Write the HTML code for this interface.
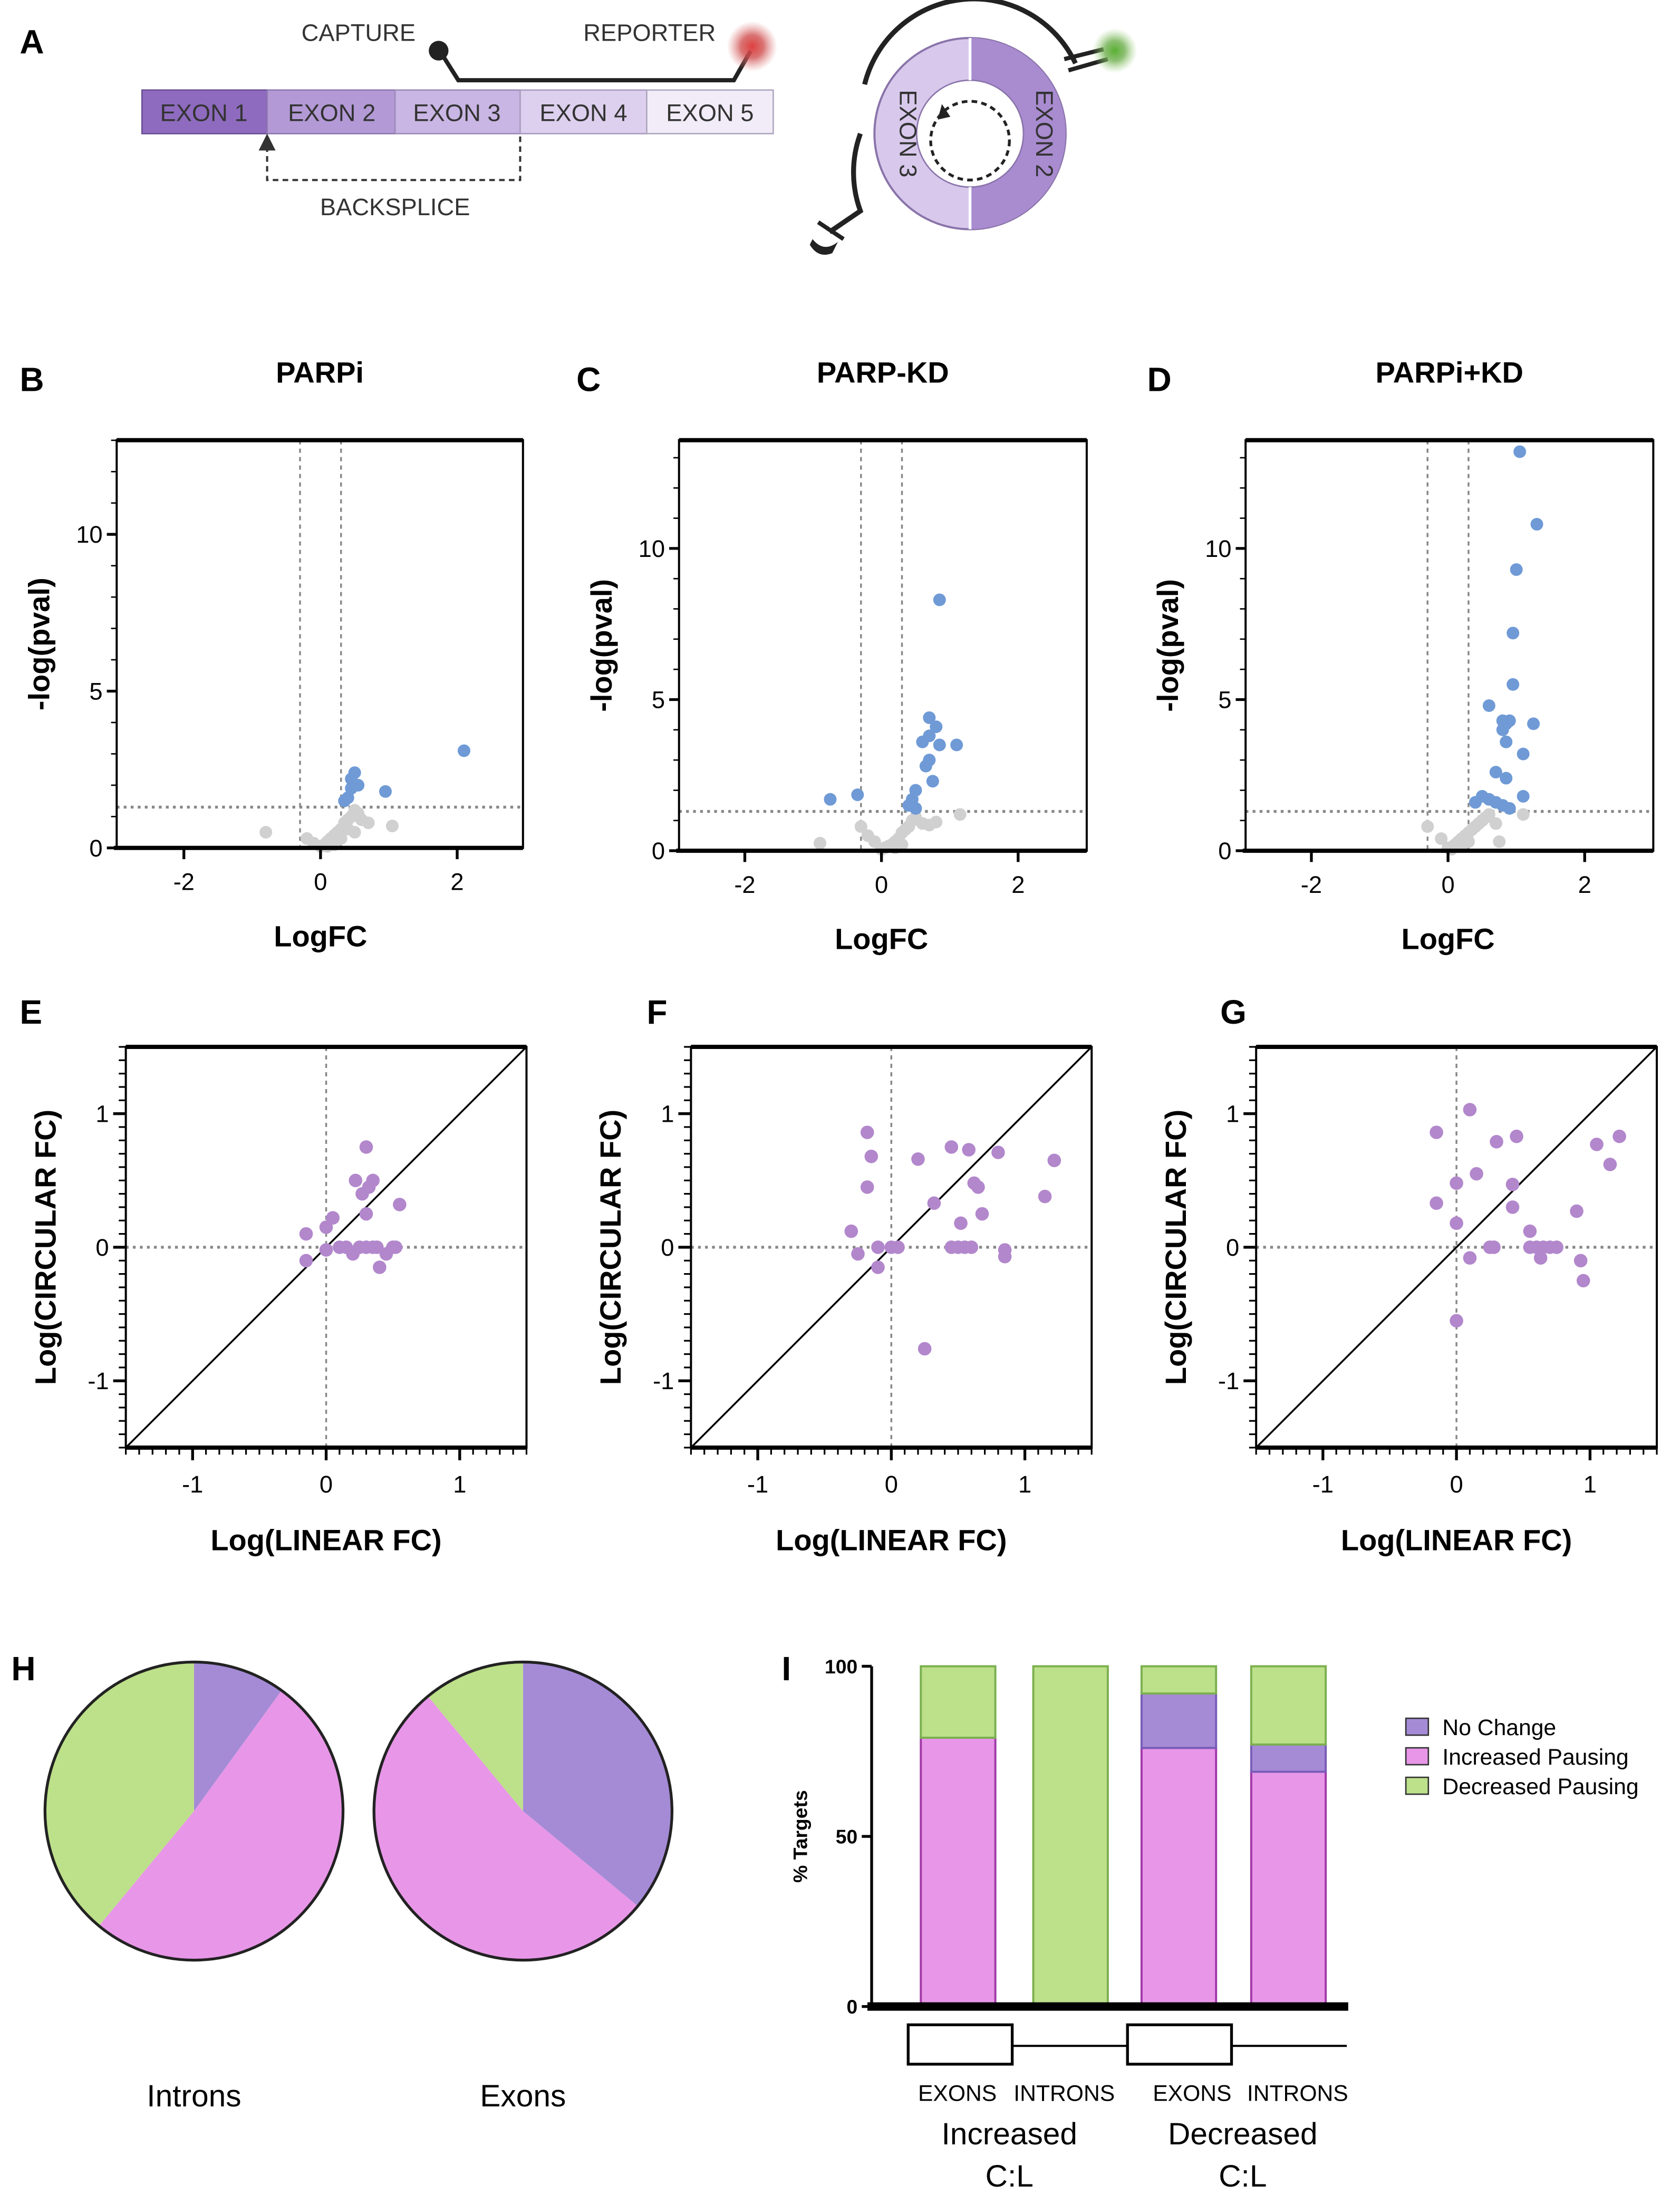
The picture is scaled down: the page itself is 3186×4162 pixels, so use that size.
<!DOCTYPE html>
<html><head><meta charset="utf-8"><style>
html,body{margin:0;padding:0;background:#fff}
svg{display:block;font-family:"Liberation Sans",sans-serif}
</style></head><body>
<svg id="fig" width="3186" height="4162" viewBox="0 0 1195 1561" xmlns="http://www.w3.org/2000/svg">
<defs>
<radialGradient id="glowR"><stop offset="0" stop-color="#e04040"/><stop offset="0.45" stop-color="#d05050" stop-opacity="0.8"/><stop offset="1" stop-color="#e08080" stop-opacity="0"/></radialGradient>
<radialGradient id="glowG"><stop offset="0" stop-color="#58b030"/><stop offset="0.45" stop-color="#70b050" stop-opacity="0.8"/><stop offset="1" stop-color="#a0d080" stop-opacity="0"/></radialGradient>
<marker id="arr" markerWidth="8" markerHeight="8" refX="4" refY="4" orient="auto"><path d="M0,0 L8,4 L0,8z" fill="#333"/></marker>
</defs>
<!-- Panel A -->
<g>
<text x="14" y="38" font-size="24" font-weight="bold">A</text>
<rect x="101" y="64" width="89" height="31" fill="#8e6bbf" stroke="#6a4f94"/>
<rect x="190" y="64" width="91" height="31" fill="#b39ad6" stroke="#8e78b0"/>
<rect x="281" y="64" width="89" height="31" fill="#c9b6e4" stroke="#9d8cb8"/>
<rect x="370" y="64" width="90" height="31" fill="#ddd0ee" stroke="#a99cc0"/>
<rect x="460" y="64" width="90" height="31" fill="#f1ecf8" stroke="#b0a8c0"/>
<g font-size="17" fill="#333" text-anchor="middle">
<text x="145" y="86">EXON 1</text><text x="236" y="86">EXON 2</text><text x="325" y="86">EXON 3</text><text x="415" y="86">EXON 4</text><text x="505" y="86">EXON 5</text>
<text x="255" y="29">CAPTURE</text><text x="462" y="29">REPORTER</text><text x="281" y="153">BACKSPLICE</text>
</g>
<path d="M370,97 V128 H190 V101" fill="none" stroke="#333" stroke-width="1.5" stroke-dasharray="4,3" marker-end="url(#arr)"/>
<path d="M314,38 L326,57 H522 L534,36" fill="none" stroke="#222" stroke-width="3"/>
<circle cx="312" cy="36" r="7" fill="#222"/>
<circle cx="535" cy="33" r="18" fill="url(#glowR)"/>
<circle cx="690" cy="95" r="68" fill="#d8c9ec" stroke="#8a74aa" stroke-width="1.5"/>
<path d="M690,27 A68,68 0 0 1 690,163 Z" fill="#a98bd0"/>
<circle cx="690" cy="95" r="38" fill="#fff" stroke="#8a74aa"/>
<line x1="690" y1="27" x2="690" y2="57" stroke="#fff" stroke-width="2"/>
<line x1="690" y1="133" x2="690" y2="163" stroke="#fff" stroke-width="2"/>
<circle cx="690" cy="100" r="28" fill="none" stroke="#222" stroke-width="2" stroke-dasharray="4,3"/>
<path d="M667,85 L670,74 L676,83z" fill="#222"/>
<text transform="translate(640,95) rotate(90)" font-size="17" fill="#333" text-anchor="middle">EXON 3</text>
<text transform="translate(737,95) rotate(90)" font-size="17" fill="#333" text-anchor="middle">EXON 2</text>
<path d="M615,60 A80,80 0 0 1 765,45" fill="none" stroke="#222" stroke-width="3.5"/>
<path d="M757,42 L785,35 M760,50 L788,42" stroke="#222" stroke-width="3"/>
<circle cx="793" cy="36" r="16" fill="url(#glowG)"/>
<path d="M612,95 A80,80 0 0 0 612,150 L590,165" fill="none" stroke="#222" stroke-width="3.5"/>
<path d="M582,158 L600,170" stroke="#222" stroke-width="3"/>
<path d="M578,170 q8,10 18,2 l-4,8 q-10,4 -16,-6z" fill="#222"/>
</g>
<g id="charts"></g>
</svg>
<script>
// ---------- Data ----------
const volcanoBBlueX=[0.45,0.5,0.55,0.45,0.4,0.95,2.1,0.35];
const volcanoBBlueY=[2.2,2.4,2.0,1.9,1.6,1.8,3.1,1.5];
const volcanoBGreyX=[-0.8,-0.2,-0.1,0,0.05,0.1,0.15,0.2,0.25,0.3,0.35,0.4,0.45,0.5,0.55,0.6,0.7,1.05,0.3,0.2,0.1,0.4,0.5];
const volcanoBGreyY=[0.5,0.3,0.15,0.05,0.1,0.2,0.3,0.4,0.5,0.6,0.8,0.9,1.0,1.2,1.1,0.9,0.8,0.7,0.3,0.1,0.05,0.6,0.5];
const volcanoCBlueX=[-0.75,-0.35,0.85,0.7,0.8,0.6,0.7,0.85,1.1,0.65,0.7,0.75,0.5,0.45,0.4,0.5];
const volcanoCBlueY=[1.7,1.85,8.3,4.4,4.1,3.6,3.8,3.5,3.5,2.8,3.0,2.3,2.0,1.7,1.5,1.4];
const volcanoCGreyX=[-0.9,-0.3,-0.2,-0.1,0,0.05,0.1,0.15,0.2,0.25,0.3,0.35,0.4,0.45,0.5,0.6,0.7,0.8,1.15,0.3,0.2];
const volcanoCGreyY=[0.25,0.8,0.5,0.3,0.05,0.1,0.15,0.2,0.3,0.4,0.6,0.7,0.8,1.0,1.1,0.9,0.85,0.95,1.2,0.2,0.1];
const volcanoDBlueX=[1.05,1.3,1.0,0.95,0.95,0.6,0.8,0.85,0.9,0.8,1.25,0.85,1.1,0.7,0.85,1.1,0.5,0.6,0.4,0.7,0.9,0.8];
const volcanoDBlueY=[13.2,10.8,9.3,7.2,5.5,4.8,4.3,4.2,4.3,4.0,4.2,3.6,3.2,2.6,2.4,1.8,1.8,1.7,1.6,1.6,1.4,1.5];
const volcanoDGreyX=[-0.3,-0.1,0,0.05,0.1,0.15,0.2,0.25,0.3,0.35,0.4,0.45,0.5,0.55,0.6,0.7,0.75,1.1,0.3,0.2];
const volcanoDGreyY=[0.8,0.4,0.1,0.05,0.2,0.3,0.4,0.5,0.6,0.7,0.8,0.9,1.0,1.1,1.2,0.9,0.3,1.2,0.3,0.15];
const scatterEX=[0.3,0.22,0.32,0.35,0.27,0.55,0.3,0.05,0.0,-0.15,-0.15,0.0,0.1,0.15,0.2,0.25,0.3,0.38,0.45,0.5,0.4,0.35,0.52];
const scatterEY=[0.75,0.5,0.45,0.5,0.4,0.32,0.25,0.22,0.15,0.1,-0.1,-0.02,0,0,-0.05,0,0,0,-0.05,0,-0.15,0,0];
const scatterFX=[-0.18,-0.15,-0.18,0.2,0.45,0.58,0.8,1.22,0.62,0.65,1.15,0.32,0.68,0.52,-0.3,-0.25,-0.1,0,0.05,-0.1,0.45,0.5,0.55,0.6,0.85,0.85,0.25];
const scatterFY=[0.86,0.68,0.45,0.66,0.75,0.73,0.71,0.65,0.48,0.45,0.38,0.33,0.25,0.18,0.12,-0.05,0,0,0,-0.15,0,0,0,0,-0.02,-0.07,-0.76];
const scatterGX=[-0.15,0.1,0.3,0.45,1.05,1.22,1.15,0.15,0,0.42,-0.15,0.42,0.9,0,0.55,0.1,0.25,0.28,0.55,0.6,0.65,0.7,0.75,0.63,0.93,0.95,0];
const scatterGY=[0.86,1.03,0.79,0.83,0.77,0.83,0.62,0.55,0.48,0.47,0.33,0.3,0.27,0.18,0.12,-0.08,0,0,0,0,0,0,0,-0.08,-0.1,-0.25,-0.55];
const pieLabels=["No Change","Increased Pausing","Decreased Pausing"];
const pieIntrons=[10,51,39];
const pieExons=[36,53,11];
const barCategories=["EXONS-Inc","INTRONS-Inc","EXONS-Dec","INTRONS-Dec"];
const barIncreased=[79,0,76,69];
const barNoChange=[0,0,16,8];
const barDecreased=[21,100,8,23];
const barTicks=[0,50,100];

const NS="http://www.w3.org/2000/svg";
const root=document.getElementById('charts');
function mk(tag,attrs,parent){const e=document.createElementNS(NS,tag);for(const k in attrs)e.setAttribute(k,attrs[k]);(parent||root).appendChild(e);return e;}
function txt(x,y,s,size,opts,parent){const t=mk('text',Object.assign({x:x,y:y,'font-size':size},opts||{}),parent);t.textContent=s;return t;}

// Panel letters & titles
[["B",14,278],["C",410,278],["D",816,278],["E",14,728],["F",460,728],["G",868,728],["H",8,1195],["I",556,1195]].forEach(l=>{
 const t=txt(l[1],l[2],l[0],24,{'font-weight':'bold'});
 
 
});

function volcano(id,box,x0px,scaleY,title,bx,by,gx,gy){
 const g=mk('g',{});
 
 
 const xs=v=>x0px+v*48.6, ys=v=>box.b-v*scaleY;
 const tt=txt((box.l+box.r)/2,272,title,21,{'font-weight':'bold','text-anchor':'middle'},g);
 
 
 // threshold lines
 mk('line',{x1:xs(-0.3),x2:xs(-0.3),y1:box.t,y2:box.b,stroke:'#888','stroke-width':1.3,'stroke-dasharray':'3,3'},g);
 mk('line',{x1:xs(0.3),x2:xs(0.3),y1:box.t,y2:box.b,stroke:'#888','stroke-width':1.3,'stroke-dasharray':'3,3'},g);
 mk('line',{x1:box.l,x2:box.r,y1:ys(1.3),y2:ys(1.3),stroke:'#888','stroke-width':2,'stroke-dasharray':'2,3'},g);
 gx.forEach((v,i)=>{const c=mk('circle',{cx:xs(v),cy:ys(gy[i]),r:4.5,fill:'#d0d0d0'},g);
  });
 bx.forEach((v,i)=>{const c=mk('circle',{cx:xs(v),cy:ys(by[i]),r:4.5,fill:'#6f9ad6'},g);
  });
 mk('rect',{x:box.l,y:box.t,width:box.r-box.l,height:box.b-box.t,fill:'none',stroke:'#000','stroke-width':1.5},g);
 mk('line',{x1:box.l,x2:box.r,y1:box.t,y2:box.t,stroke:'#000','stroke-width':3},g);
 mk('line',{x1:box.l-2,x2:box.r,y1:box.b,y2:box.b,stroke:'#000','stroke-width':3},g);
 [-2,0,2].forEach(v=>{mk('line',{x1:xs(v),x2:xs(v),y1:box.b,y2:box.b+8,stroke:'#000','stroke-width':2},g);
  txt(xs(v),box.b+30,String(v),17,{'text-anchor':'middle'},g);});
 [0,5,10].forEach(v=>{mk('line',{x1:box.l-7,x2:box.l,y1:ys(v),y2:ys(v),stroke:'#000','stroke-width':2},g);
  txt(box.l-10,ys(v)+6,String(v),17,{'text-anchor':'end'},g);});
 for(let v=1;v<=13;v++){ if(ys(v)>box.t) mk('line',{x1:box.l-4,x2:box.l,y1:ys(v),y2:ys(v),stroke:'#000','stroke-width':1},g);}
 const xl=txt(x0px,box.b+70,'LogFC',21,{'font-weight':'bold','text-anchor':'middle'},g);
 
 const yl=txt(0,0,'-log(pval)',21,{'font-weight':'bold','text-anchor':'middle',transform:`translate(${box.l-48},${(box.t+box.b)/2}) rotate(-90)`},g);
 
}
volcano('parpi',{l:83,r:372,t:313,b:603},228,22.3,'PARPi',volcanoBBlueX,volcanoBBlueY,volcanoBGreyX,volcanoBGreyY);
volcano('parp-kd',{l:483,r:773,t:313,b:605},627,21.5,'PARP-KD',volcanoCBlueX,volcanoCBlueY,volcanoCGreyX,volcanoCGreyY);
volcano('parpi-kd',{l:886,r:1176,t:313,b:605},1030,21.5,'PARPi+KD',volcanoDBlueX,volcanoDBlueY,volcanoDGreyX,volcanoDGreyY);

function scatter(id,x0,px,py){
 const g=mk('g',{});
 
 
 const y0=887,k=95;
 const xs=v=>x0+v*k, ys=v=>y0-v*k;
 const l=xs(-1.5),r=xs(1.5),t=ys(1.5),b=ys(-1.5);
 mk('line',{x1:xs(0),x2:xs(0),y1:t,y2:b,stroke:'#888','stroke-width':1.3,'stroke-dasharray':'3,3'},g);
 mk('line',{x1:l,x2:r,y1:ys(0),y2:ys(0),stroke:'#888','stroke-width':2,'stroke-dasharray':'2,3'},g);
 mk('line',{x1:xs(-1.5),y1:ys(-1.5),x2:xs(1.5),y2:ys(1.5),stroke:'#000','stroke-width':1.3},g);
 px.forEach((v,i)=>{const c=mk('circle',{cx:xs(v),cy:ys(py[i]),r:4.8,fill:'#b287cc'},g);
  });
 mk('rect',{x:l,y:t,width:r-l,height:b-t,fill:'none',stroke:'#000','stroke-width':1.5},g);
 mk('line',{x1:l,x2:r,y1:t,y2:t,stroke:'#000','stroke-width':3},g);
 mk('line',{x1:l,x2:r,y1:b,y2:b,stroke:'#000','stroke-width':3},g);
 for(let i=-15;i<=15;i++){const v=i/10,maj=(i%10===0);
  mk('line',{x1:xs(v),x2:xs(v),y1:b,y2:b+(maj?9:5),stroke:'#000','stroke-width':maj?2:1.2},g);
  mk('line',{x1:l-(maj?9:5),x2:l,y1:ys(v),y2:ys(v),stroke:'#000','stroke-width':maj?2:1.2},g);}
 [-1,0,1].forEach(v=>{txt(xs(v),b+32,String(v),17,{'text-anchor':'middle'},g);
  txt(l-12,ys(v)+6,String(v),17,{'text-anchor':'end'},g);});
 const xl=txt(xs(0),b+73,'Log(LINEAR FC)',21,{'font-weight':'bold','text-anchor':'middle'},g);
 
 const yl=txt(0,0,'Log(CIRCULAR FC)',21,{'font-weight':'bold','text-anchor':'middle',transform:`translate(${l-50},${y0}) rotate(-90)`},g);
 
}
scatter('parpi',232,scatterEX,scatterEY);
scatter('parp-kd',634,scatterFX,scatterFY);
scatter('parpi-kd',1036,scatterGX,scatterGY);

const colors=['#a58bd6','#e896e8','#bde08a'];
function pie(id,cx,cy,r,vals,label){
 const g=mk('g',{});
 
 
 const tot=vals.reduce((a,b)=>a+b,0);let a=0;
 vals.forEach((v,i)=>{const a1=a+v/tot*2*Math.PI;
  const p=`M${cx},${cy} L${cx+r*Math.sin(a)},${cy-r*Math.cos(a)} A${r},${r} 0 ${a1-a>Math.PI?1:0} 1 ${cx+r*Math.sin(a1)},${cy-r*Math.cos(a1)} Z`;
  const s=mk('path',{d:p,fill:colors[i]},g);
  
  
  a=a1;});
 mk('circle',{cx:cx,cy:cy,r:r,fill:'none',stroke:'#222','stroke-width':2},g);
 txt(cx,1498,label,22,{'text-anchor':'middle'},g);
}
pie('introns',138,1288,106,pieIntrons,'Introns');
pie('exons',372,1288,106,pieExons,'Exons');

// Bar chart
(function(){
 const g=mk('g',{});
 
 
 const y0=1427,k=2.42;const ys=v=>y0-v*k;
 const lefts=[655,735,812,890],w=53;
 const strokes=['#7a5cb8','#a23aa8','#7cb050'];
 barCategories.forEach((c,i)=>{
  const segs=[barIncreased[i],barNoChange[i],barDecreased[i]];
  const cols=[colors[1],colors[0],colors[2]], st=[strokes[1],strokes[0],strokes[2]];
  let base=0;
  segs.forEach((v,j)=>{ if(v<=0)return;
   const r=mk('rect',{x:lefts[i],y:ys(base+v),width:w,height:v*k,fill:cols[j],stroke:st[j],'stroke-width':1.5},g);
   
   
   base+=v;});
 });
 mk('line',{x1:620,x2:620,y1:ys(100),y2:y0,stroke:'#000','stroke-width':2},g);
 barTicks.forEach(v=>{mk('line',{x1:613,x2:620,y1:ys(v),y2:ys(v),stroke:'#000','stroke-width':2},g);
  txt(610,ys(v)+5,String(v),14,{'text-anchor':'end','font-weight':'bold'},g);});
 mk('line',{x1:617,x2:959,y1:y0,y2:y0,stroke:'#000','stroke-width':6},g);
 const yl=txt(0,0,'% Targets',14,{'font-weight':'bold','text-anchor':'middle',transform:`translate(574,${ys(50)}) rotate(-90)`},g);
 
 // gene diagram
 mk('rect',{x:646,y:1440,width:74,height:28,fill:'#fff',stroke:'#000','stroke-width':2},g);
 mk('line',{x1:720,x2:802,y1:1455,y2:1455,stroke:'#000','stroke-width':1.5},g);
 mk('rect',{x:802,y:1440,width:74,height:28,fill:'#fff',stroke:'#000','stroke-width':2},g);
 mk('line',{x1:876,x2:958,y1:1455,y2:1455,stroke:'#000','stroke-width':1.5},g);
 txt(681,1494,'EXONS',16,{'text-anchor':'middle'},g);txt(757,1494,'INTRONS',16,{'text-anchor':'middle'},g);
 txt(848,1494,'EXONS',16,{'text-anchor':'middle'},g);txt(923,1494,'INTRONS',16,{'text-anchor':'middle'},g);
 txt(718,1525,'Increased',22,{'text-anchor':'middle'},g);txt(718,1555,'C:L',22,{'text-anchor':'middle'},g);
 txt(884,1525,'Decreased',22,{'text-anchor':'middle'},g);txt(884,1555,'C:L',22,{'text-anchor':'middle'},g);
 // legend
 [[colors[0],strokes[0],pieLabels[0]],[colors[1],strokes[1],pieLabels[1]],[colors[2],strokes[2],pieLabels[2]]].forEach((L,i)=>{
  const y=1222+i*21;
  const s=mk('rect',{x:1000,y:y,width:16,height:12,fill:L[0],stroke:'#333','stroke-width':1},g);
  
  const t=txt(1026,y+12,L[2],16,{},g);
  
 });
})();
</script>
</body></html>
